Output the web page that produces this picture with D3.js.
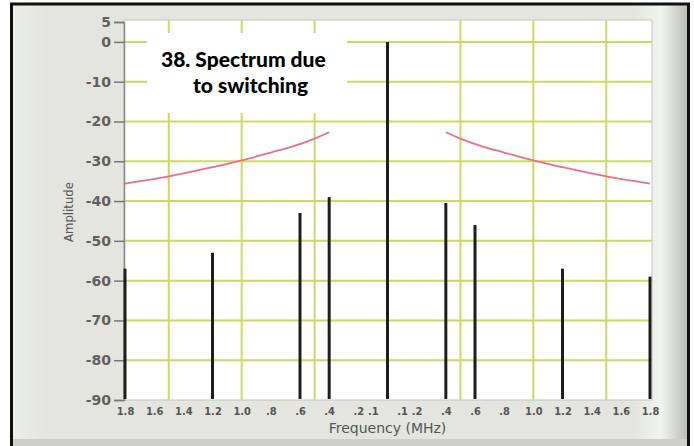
<!DOCTYPE html>
<html>
<head>
<meta charset="utf-8">
<script src="https://cdn.jsdelivr.net/npm/d3@7"></script>
<style>
  body { margin: 0; background: #fff; }
  svg { display: block; }
</style>
</head>
<body>
<div id="chart"></div>
<script>
const width = 694,
  height = 446;
const plot = { left: 124, right: 652, top: 20, bottom: 400 };

// spectrum lines (frequency in MHz, negative = left of carrier)
const spikeFreq = [-1.8, -1.2, -0.6, -0.4, 0, 0.4, 0.6, 1.2, 1.8];
const spikeAmp = [-57, -53, -43, -39, 0, -40.5, -46, -57, -59];

// limit curve (one side, mirrored on the other)
const limitFreq = [0.4, 0.5, 0.66, 0.8, 1.0, 1.2, 1.5, 1.8];
const limitAmp = [-22.7, -24.3, -26.4, -27.8, -29.8, -31.5, -33.8, -35.6];

const yTicks = [5, 0, -10, -20, -30, -40, -50, -60, -70, -80, -90];
const yGrid = [0, -10, -20, -30, -40, -50, -60, -70, -80];
const xTicks = [-1.8, -1.6, -1.4, -1.2, -1.0, -0.8, -0.6, -0.4, -0.2, -0.1,
  0.1, 0.2, 0.4, 0.6, 0.8, 1.0, 1.2, 1.4, 1.6, 1.8];
const xGrid = [-1.5, -1.0, -0.5, 0.5, 1.0, 1.5];

const x = d3.scaleLinear().domain([-1.8, 1.8]).range([plot.left + 1, plot.right - 2]);
const y = d3.scaleLinear().domain([-90, 5]).range([plot.bottom, plot.top + 2]);

const svg = d3
  .select("#chart")
  .append("svg")
  .attr("width", width)
  .attr("height", height);

const defs = svg.append("defs");
const grad = defs.append("linearGradient").attr("id", "panel");
grad.append("stop").attr("offset", "0%").attr("stop-color", "#eceee8");
grad.append("stop").attr("offset", "5%").attr("stop-color", "#e3e5de");
grad.append("stop").attr("offset", "92%").attr("stop-color", "#e3e5de");
grad.append("stop").attr("offset", "96%").attr("stop-color", "#f2f4f0");
grad.append("stop").attr("offset", "100%").attr("stop-color", "#b9bbb5");

// panel and frame
svg.append("rect").attr("x", 0).attr("y", 0).attr("width", width).attr("height", height).attr("fill", "#fff");
svg.append("rect").attr("x", 12).attr("y", 5).attr("width", 676).attr("height", 441).attr("fill", "url(#panel)");
svg.append("rect").attr("x", 12).attr("y", 439).attr("width", 676).attr("height", 7).attr("fill", "#cdcfc8");
svg.append("rect")
  .attr("x", 11.5).attr("y", 4).attr("width", 677).attr("height", 450)
  .attr("fill", "none").attr("stroke", "#111").attr("stroke-width", 3);

// plot area
svg.append("rect")
  .attr("x", plot.left).attr("y", plot.top)
  .attr("width", plot.right - plot.left).attr("height", plot.bottom - plot.top)
  .attr("fill", "#fff").attr("stroke", "#c4c6c0").attr("stroke-width", 1);

const gridColor = "#cdd86a";
svg.append("g")
  .selectAll("line")
  .data(yGrid)
  .join("line")
  .attr("x1", plot.left).attr("x2", plot.right)
  .attr("y1", (d) => y(d)).attr("y2", (d) => y(d))
  .attr("stroke", gridColor).attr("stroke-width", 2);

svg.append("g")
  .selectAll("line")
  .data(xGrid)
  .join("line")
  .attr("x1", (d) => x(d)).attr("x2", (d) => x(d))
  .attr("y1", plot.top).attr("y2", plot.bottom)
  .attr("stroke", gridColor).attr("stroke-width", 2);

// left axis
const yAxis = svg.append("g")
  .attr("transform", `translate(${plot.left},0)`)
  .call(d3.axisLeft(y).tickValues(yTicks).tickSize(10).tickPadding(3).tickFormat((d) => String(d)));
yAxis.select(".domain").attr("stroke", "#888").attr("stroke-width", 1.5);
yAxis.selectAll(".tick line").attr("stroke", "#777").attr("stroke-width", 1.5);
yAxis.selectAll("text")
  .attr("fill", "#606060")
  .style("font-family", "DejaVu Sans")
  .style("font-size", "14px")
  .style("font-weight", "bold");

// bottom labels
const xAxis = svg.append("g")
  .attr("transform", `translate(0,${plot.bottom})`)
  .call(d3.axisBottom(x).tickValues(xTicks).tickSize(0).tickPadding(7)
    .tickFormat((d) => {
      const s = d3.format(".1f")(Math.abs(d));
      return s.startsWith("0") ? s.slice(1) : s;
    }));
xAxis.select(".domain").remove();
xAxis.selectAll("text")
  .attr("fill", "#555")
  .style("font-family", "DejaVu Sans Condensed, DejaVu Sans")
  .style("font-size", "11px")
  .style("font-weight", "bold");

svg.append("text")
  .attr("x", (x(0)))
  .attr("y", 433)
  .attr("text-anchor", "middle")
  .attr("fill", "#555")
  .style("font-family", "DejaVu Sans")
  .style("font-size", "14px")
  .text("Frequency (MHz)");

svg.append("text")
  .attr("transform", "translate(73,212) rotate(-90)")
  .attr("text-anchor", "middle")
  .attr("fill", "#555")
  .style("font-family", "DejaVu Sans Condensed, DejaVu Sans")
  .style("font-size", "13px")
  .text("Amplitude");

// limit curve
const line = d3.line().x((d) => x(d[0])).y((d) => y(d[1])).curve(d3.curveMonotoneX);
const rightSide = limitFreq.map((f, i) => [f, limitAmp[i]]);
const leftSide = rightSide.map((d) => [-d[0], d[1]]).reverse();
svg.selectAll(".limit")
  .data([leftSide, rightSide])
  .join("path")
  .attr("class", "limit")
  .attr("d", line)
  .attr("fill", "none")
  .attr("stroke", "#e8708a")
  .attr("stroke-width", 1.8);

// spectral lines
svg.append("g")
  .selectAll("line")
  .data(spikeFreq.map((f, i) => ({ f, a: spikeAmp[i] })))
  .join("line")
  .attr("x1", (d) => x(d.f)).attr("x2", (d) => x(d.f))
  .attr("y1", y(-90) - 1).attr("y2", (d) => y(d.a))
  .attr("stroke", "#1e1e1e")
  .attr("stroke-width", 3);

// caption box
svg.append("rect")
  .attr("x", 147).attr("y", 33).attr("width", 200).attr("height", 80)
  .attr("fill", "#fff");
const cap = svg.append("text")
  .attr("fill", "#000")
  .style("font-family", "Lato")
  .style("font-weight", "900")
  .style("font-size", "21px");
cap.append("tspan").attr("x", 161).attr("y", 67).text("38. Spectrum due");
cap.append("tspan").attr("x", 193).attr("y", 93).text("to switching");
</script>
</body>
</html>
